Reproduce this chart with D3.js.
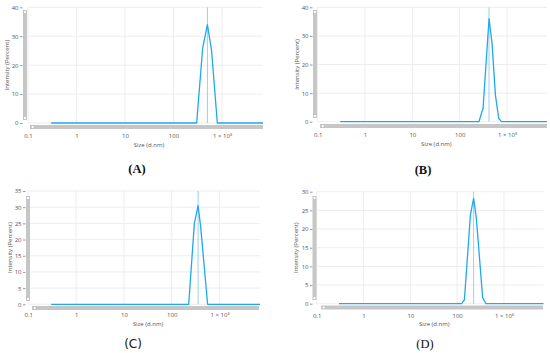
<!DOCTYPE html>
<html><head><meta charset="utf-8">
<script src="https://cdn.jsdelivr.net/npm/d3@7"></script>
<style>body{margin:0;background:#fff}svg{display:block}</style>
</head><body>
<svg id="c" width="550" height="353"></svg>
<script>
// ---- data ----
const xTickValues = [0.1, 1, 10, 100, 1000];
const xTickLabels = ["0.1", "1", "10", "100", "1 × 10³"];
const panelLabels = ["(A)", "(B)", "(C)", "(D)"];

const sizesA = [0.3, 300, 400, 500, 610, 800, 7000];
const intensA = [0, 0, 26, 34, 25, 0, 0];
const peakA = 500;
const yTicksA = [0, 10, 20, 30, 40];

const sizesB = [0.3, 255, 312, 417, 483, 569, 668, 760, 7000];
const intensB = [0, 0, 4.7, 36, 27.4, 9.3, 1.2, 0, 0];
const peakB = 417;
const yTicksB = [0, 10, 20, 30, 40];

const sizesC = [0.3, 226, 297, 355, 402, 562, 7000];
const intensC = [0, 0, 25, 30.5, 24, 0, 0];
const peakC = 355;
const yTicksC = [0, 5, 10, 15, 20, 25, 30, 35];

const sizesD = [0.3, 125, 143, 192, 225, 257, 351, 414, 7000];
const intensD = [0, 0, 1, 23.7, 28.2, 23, 1.6, 0, 0];
const peakD = 225;
const yTicksD = [0, 5, 10, 15, 20, 25, 30];

// ---- layout ----
const panels = [
  {sizes: sizesA, vals: intensA, peak: peakA, yTicks: yTicksA, label: panelLabels[0],
   x0: 28, x1: 263, y0: 123, y1: 7.3, ylabX: 7, tickLabX: 19, xLabY: 139, sizeLabY: 147,
   vbar: [23, 10, 120], hbar: [125, 30, 263], lab: [137, 173], labFont: "bold 12.5px 'Liberation Serif', serif"},
  {sizes: sizesB, vals: intensB, peak: peakB, yTicks: yTicksB, label: panelLabels[1],
   x0: 317.7, x1: 547, y0: 121.7, y1: 7.3, ylabX: 297, tickLabX: 309, xLabY: 138, sizeLabY: 146,
   vbar: [313, 10, 118], hbar: [124, 320, 547], lab: [423, 174], labFont: "bold 12.5px 'Liberation Serif', serif"},
  {sizes: sizesC, vals: intensC, peak: peakC, yTicks: yTicksC, label: panelLabels[2],
   x0: 28.3, x1: 260, y0: 304.3, y1: 191, ylabX: 10, tickLabX: 22, xLabY: 318, sizeLabY: 326,
   vbar: [26, 196, 301], hbar: [306, 32, 259], lab: [133, 348], labFont: "12px 'DejaVu Sans', sans-serif"},
  {sizes: sizesD, vals: intensD, peak: peakD, yTicks: yTicksD, label: panelLabels[3],
   x0: 316.7, x1: 543.5, y0: 303.7, y1: 191.7, ylabX: 296, tickLabX: 309, xLabY: 318.5, sizeLabY: 326,
   vbar: [312.5, 196, 300], hbar: [305.5, 321, 543], lab: [425, 348], labFont: "12.5px 'Liberation Serif', serif"}
];

const svg = d3.select("#c");
const lineColor = "#1ea9ee";
const gridColor = "#e9e9ee";
const txtColor = "#555";
const font = "'Open Sans', sans-serif";

panels.forEach(p => {
  const g = svg.append("g");
  const x = d3.scaleLog().domain([0.1, 7000]).range([p.x0, p.x1]);
  const yMax = p.yTicks[p.yTicks.length - 1];
  const y = d3.scaleLinear().domain([0, yMax]).range([p.y0, p.y1]);

  // gridlines
  g.selectAll(".vg").data(xTickValues).join("line")
    .attr("x1", d => x(d)).attr("x2", d => x(d))
    .attr("y1", y(yMax)).attr("y2", y(0))
    .attr("stroke", gridColor).attr("stroke-width", 0.8);
  g.selectAll(".hg").data(p.yTicks).join("line")
    .attr("x1", x(0.1)).attr("x2", p.x1)
    .attr("y1", d => y(d)).attr("y2", d => y(d))
    .attr("stroke", gridColor).attr("stroke-width", 0.8);

  // y axis (ticks + labels)
  const yAxis = d3.axisLeft(y).tickValues(p.yTicks).tickSize(2.5).tickPadding(1.5);
  const ya = g.append("g").attr("transform", `translate(${p.tickLabX + 3.5},0)`).call(yAxis);
  ya.select(".domain").remove();
  ya.selectAll("line").attr("stroke", "#999");
  ya.selectAll("text").attr("font-family", font).attr("font-size", 6).attr("fill", txtColor);

  // x axis labels
  const xAxis = d3.axisBottom(x).tickValues(xTickValues).tickFormat((d, i) => xTickLabels[i]).tickSize(0).tickPadding(0);
  const xa = g.append("g").attr("transform", `translate(0,${p.xLabY - 5})`).call(xAxis);
  xa.select(".domain").remove();
  xa.selectAll("text").attr("font-family", font).attr("font-size", 6).attr("fill", txtColor);

  // scrollbars
  g.append("rect").attr("x", p.vbar[0]).attr("y", p.vbar[1]).attr("width", 4).attr("height", p.vbar[2] - p.vbar[1])
    .attr("fill", "#c6c6c6");
  g.append("rect").attr("x", p.vbar[0] + 0.8).attr("y", p.vbar[1] + 0.8).attr("width", 2.4).attr("height", 2.4)
    .attr("fill", "#fff").attr("stroke", "#aaa").attr("stroke-width", 0.3);
  g.append("rect").attr("x", p.vbar[0] + 0.8).attr("y", p.vbar[2] - 3.2).attr("width", 2.4).attr("height", 2.4)
    .attr("fill", "#fff").attr("stroke", "#aaa").attr("stroke-width", 0.3);
  g.append("rect").attr("x", p.hbar[1]).attr("y", p.hbar[0]).attr("width", p.hbar[2] - p.hbar[1]).attr("height", 4)
    .attr("fill", "#c6c6c6");
  g.append("rect").attr("x", p.hbar[1] + 1.5).attr("y", p.hbar[0] + 0.8).attr("width", 2.4).attr("height", 2.4)
    .attr("fill", "#fff").attr("stroke", "#aaa").attr("stroke-width", 0.3);

  // peak marker line
  g.append("line").attr("x1", x(p.peak)).attr("x2", x(p.peak))
    .attr("y1", y(yMax)).attr("y2", y(0))
    .attr("stroke", "#9ccff0").attr("stroke-width", 1);

  // distribution line
  const pts = p.sizes.map((s, i) => [s, p.vals[i]]);
  g.append("path").datum(pts)
    .attr("d", d3.line().x(d => x(d[0])).y(d => y(d[1])))
    .attr("fill", "none").attr("stroke", lineColor).attr("stroke-width", 1.3).attr("stroke-linejoin", "round");

  // axis titles
  g.append("text").attr("transform", `translate(${p.ylabX},${(y(0) + y(yMax)) / 2}) rotate(-90)`)
    .attr("text-anchor", "middle").attr("dominant-baseline", "middle")
    .attr("font-family", font).attr("font-size", 6).attr("fill", txtColor)
    .text("Intensity (Percent)");
  g.append("text").attr("x", x(10) + 24).attr("y", p.sizeLabY)
    .attr("text-anchor", "middle")
    .attr("font-family", font).attr("font-size", 6).attr("fill", txtColor)
    .text("Size (d.nm)");

  // panel label
  g.append("text").attr("x", p.lab[0]).attr("y", p.lab[1]).attr("text-anchor", "middle")
    .style("font", p.labFont).attr("fill", "#111").text(p.label);
});
</script>
</body></html>
